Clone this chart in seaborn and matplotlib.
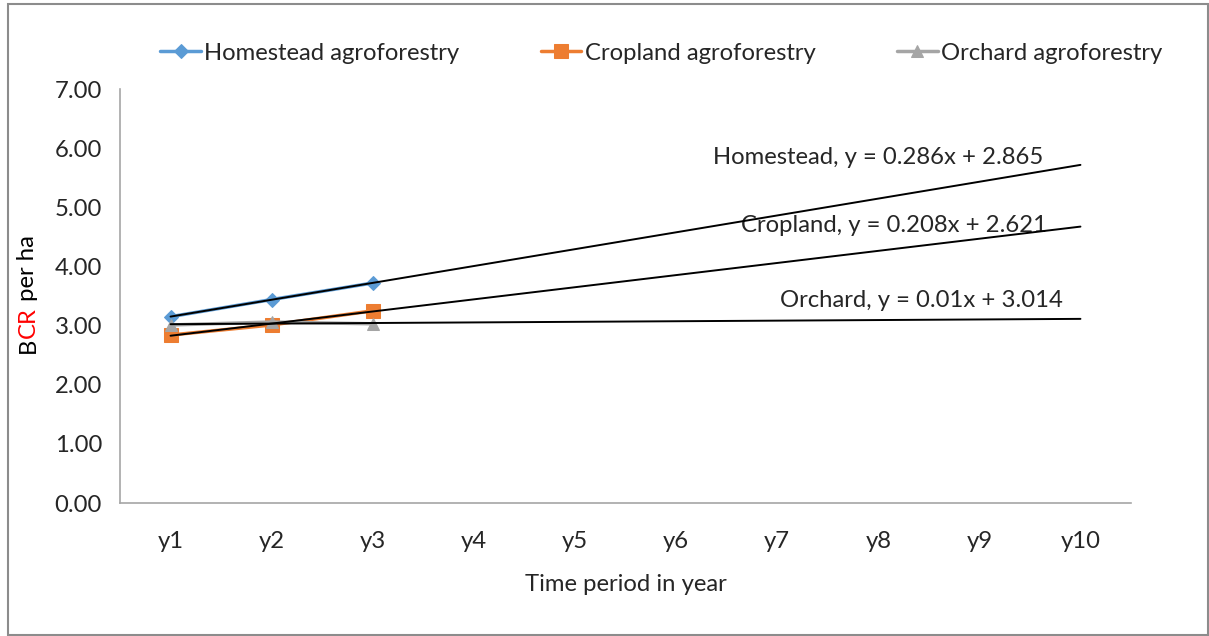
import numpy as np
import pandas as pd
import matplotlib.pyplot as plt
import seaborn as sns
from matplotlib.patches import Rectangle

# data
years = ['y1', 'y2', 'y3', 'y4', 'y5', 'y6', 'y7', 'y8', 'y9', 'y10']
homestead = [3.15, 3.44, 3.72]
cropland = [2.84, 3.01, 3.25]
orchard = [3.01, 3.06, 3.03]
series_names = ['Homestead agroforestry', 'Cropland agroforestry', 'Orchard agroforestry']
trend_labels = ['Homestead, y = 0.286x + 2.865', 'Cropland, y = 0.208x + 2.621', 'Orchard, y = 0.01x + 3.014']
yticks = [0, 1, 2, 3, 4, 5, 6, 7]

colors = ['#5B9BD5', '#ED7D31', '#A5A5A5']
markers = ['D', 's', '^']
msizes = [7, 10, 9]
fs = 17.2

sns.set_style('white')
plt.rcParams['font.family'] = ['Lato', 'DejaVu Sans']

fig = plt.figure(figsize=(12.09, 6.36), dpi=100)
ax = fig.add_axes([120 / 1209, 1 - 503 / 636, 1011 / 1209, 414 / 636])

df = pd.DataFrame({
    'x': [1, 2, 3] * 3,
    'BCR': homestead + cropland + orchard,
    'series': [series_names[0]] * 3 + [series_names[1]] * 3 + [series_names[2]] * 3,
})

for i, name in enumerate(series_names):
    sub = df[df['series'] == name]
    sns.lineplot(data=sub, x='x', y='BCR', ax=ax, color=colors[i], marker=markers[i],
                 markersize=msizes[i], markeredgecolor=colors[i], linewidth=2.5,
                 label=name, zorder=3)

# linear trendlines extended to y10
xt = np.arange(1, 11)
for vals in [homestead, cropland, orchard]:
    k, b = np.polyfit([1, 2, 3], vals, 1)
    ax.plot(xt, k * xt + b, color='black', linewidth=1.4, zorder=4)

ax.text(6.37, 5.85, trend_labels[0], fontsize=fs, ha='left', va='center')
ax.text(6.64, 4.70, trend_labels[1], fontsize=fs, ha='left', va='center')
ax.text(7.03, 3.43, trend_labels[2], fontsize=fs, ha='left', va='center')

ax.set_xlim(0.5, 10.5)
ax.set_ylim(0, 7)
ax.set_yticks(yticks)
ax.set_yticklabels([f'{v:.2f}' for v in yticks], fontsize=fs)
ax.set_xticks(range(1, 11))
ax.set_xticklabels(years, fontsize=fs)
ax.set_xticks(np.arange(0.5, 11), minor=True)
ax.tick_params(axis='x', which='major', length=0, pad=20)
ax.tick_params(axis='x', which='minor', length=7, color='#A6A6A6', width=1.2, direction='out')
ax.tick_params(axis='y', length=7, color='#A6A6A6', width=1.2, direction='out', pad=6)
ax.set_xlabel('Time period in year', fontsize=fs, labelpad=16)
ax.set_ylabel('')
for s in ['top', 'right']:
    ax.spines[s].set_visible(False)
for s in ['left', 'bottom']:
    ax.spines[s].set_color('#A6A6A6')
    ax.spines[s].set_linewidth(1.2)

handles, labels = ax.get_legend_handles_labels()
fig.legend(handles, labels, loc='center', bbox_to_anchor=(0.547, 1 - 53 / 636), ncol=3,
           frameon=False, fontsize=fs, handlelength=1.7, columnspacing=3.4, handletextpad=0.15)
ax.get_legend().remove()

# y label "BCR per ha" with CR in red, stacked pieces
fig.canvas.draw()
r = fig.canvas.get_renderer()
ypos = 1 - 353 / 636
for txt, col in [('B', 'black'), ('CR', 'red'), (' per ha', 'black')]:
    t = fig.text(28 / 1209, ypos, txt, rotation=90, color=col, fontsize=fs,
                 ha='center', va='bottom')
    bb = t.get_window_extent(renderer=r)
    ypos += bb.height / fig.bbox.height

fig.patches.append(Rectangle((8 / 1209, 1 / 636), 1200 / 1209, 631 / 636, transform=fig.transFigure,
                             fill=False, edgecolor='#8C8C8C', linewidth=1.5))

fig.savefig('out.png', dpi=100)
